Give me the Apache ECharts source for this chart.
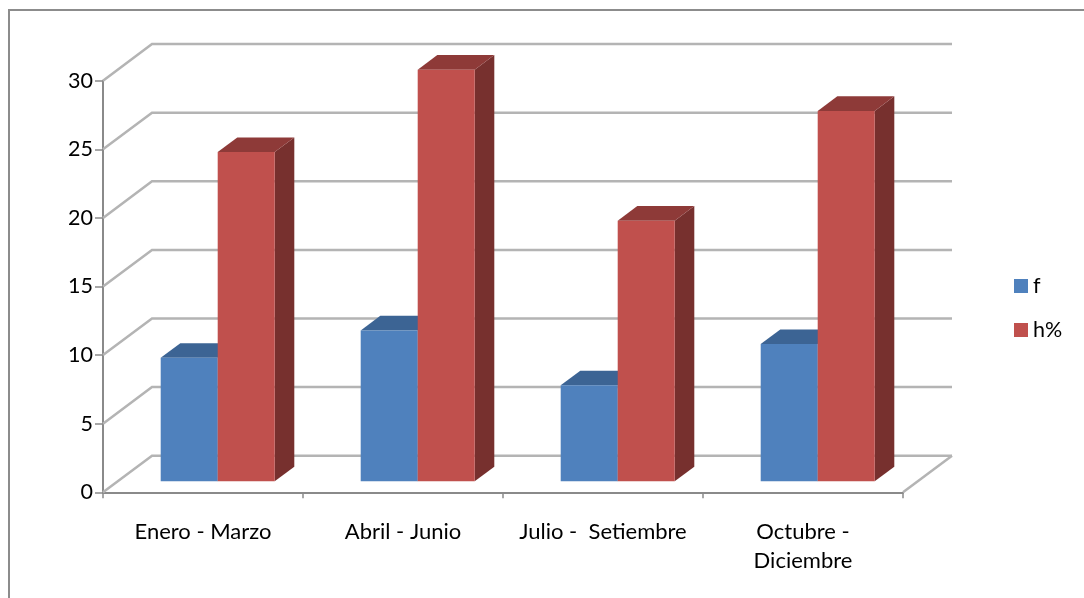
<!DOCTYPE html>
<html>
<head>
<meta charset="utf-8">
<style>html,body{margin:0;padding:0;background:#fff}#c{width:1084px;height:598px}</style>
<script src="https://cdn.jsdelivr.net/npm/echarts@6/dist/echarts.min.js"></script>
</head>
<body>
<div id="c"></div>
<script>
const categories = ['Enero - Marzo', 'Abril - Junio', 'Julio -  Setiembre', 'Octubre -\nDiciembre'];
const fValues = [9, 11, 7, 10];
const hValues = [24, 30, 19, 27];
const yTicks = [0, 5, 10, 15, 20, 25, 30];

const DEPTH_X = 49, DEPTH_Y = -36.6;
const FRONT = 0.3, BACK = 0.7, GAP = 0.215, BAR = 0.285;

function wall(params, api) {
  const v = api.value(0);
  const band = api.size([1, 0])[0];
  const a = api.coord([0, v]); const b = api.coord([categories.length - 1, v]);
  const x0 = a[0] - band / 2, x1 = b[0] + band / 2, y = a[1];
  const style = { stroke: '#b4b4b4', lineWidth: 2.5, fill: null };
  const children = [
    { type: 'polyline', shape: { points: [[x0, y], [x0 + DEPTH_X, y + DEPTH_Y], [x1 + DEPTH_X, y + DEPTH_Y]] }, style }
  ];
  if (v === 0) children.push({ type: 'line', shape: { x1: x1, y1: y, x2: x1 + DEPTH_X, y2: y + DEPTH_Y }, style });
  return { type: 'group', children };
}

function bar3d(offsetIndex, front, top, side) {
  return function (params, api) {
    const cat = api.value(0), v = api.value(1);
    const band = api.size([1, 0])[0];
    const c0 = api.coord([cat, 0]), c1 = api.coord([cat, v]);
    const ox = FRONT * DEPTH_X, oy = FRONT * DEPTH_Y;
    const dx = (BACK - FRONT) * DEPTH_X, dy = (BACK - FRONT) * DEPTH_Y;
    const l = c0[0] - band / 2 + band * (GAP + BAR * offsetIndex) + ox;
    const r = l + band * BAR;
    const b = c0[1] + oy, t = c1[1] + oy;
    return { type: 'group', children: [
      { type: 'polygon', shape: { points: [[r, b], [r + dx, b + dy], [r + dx, t + dy], [r, t]] }, style: { fill: side } },
      { type: 'polygon', shape: { points: [[l, t], [l + dx, t + dy], [r + dx, t + dy], [r, t]] }, style: { fill: top } },
      { type: 'rect', shape: { x: l, y: t, width: r - l, height: b - t }, style: { fill: front } }
    ] };
  };
}

const chart = echarts.init(document.getElementById('c'), null, { renderer: 'canvas' });
const font = 'Lato';
chart.setOption({
  animation: false,
  backgroundColor: '#fff',
  textStyle: { fontFamily: font },
  graphic: [
    { type: 'polyline', silent: true, shape: { points: [[9, 598], [9, 10], [1084, 10]] }, style: { stroke: '#8c8c8c', lineWidth: 2, fill: null } }
  ],
  grid: { left: 103, right: 181, top: 80.7, bottom: 105.7 },
  xAxis: {
    type: 'category', data: categories,
    axisLine: { lineStyle: { color: '#8a8a8a', width: 2 } },
    axisTick: { show: true, length: 6, alignWithLabel: false, lineStyle: { color: '#8a8a8a', width: 1.5 } },
    axisLabel: { color: '#000', fontSize: 22, fontFamily: font, margin: 25, lineHeight: 29, interval: 0 },
    splitLine: { show: false }
  },
  yAxis: {
    type: 'value', min: 0, max: 30, interval: 5,
    axisLine: { show: true, lineStyle: { color: '#8a8a8a', width: 2 } },
    axisTick: { show: true, length: 8, lineStyle: { color: '#8a8a8a', width: 1.5 } },
    axisLabel: { color: '#000', fontSize: 21.5, fontFamily: font, margin: 10 },
    splitLine: { show: false }
  },
  legend: {
    data: [{ name: 'f', icon: 'rect' }, { name: 'h%', icon: 'rect' }],
    orient: 'vertical', left: 1014, top: 275,
    itemWidth: 14, itemHeight: 14, itemGap: 22,
    textStyle: { color: '#000', fontSize: 21.5, fontFamily: font },
    padding: 0
  },
  series: [
    { type: 'custom', silent: true, z: 1, renderItem: wall, data: yTicks.map(v => [v]), encode: { y: 0 } },
    { type: 'custom', name: 'f', z: 3, itemStyle: { color: '#4F81BD' },
      renderItem: bar3d(0, '#4F81BD', '#3C6494', '#3A5F8C'),
      encode: { x: 0, y: 1 }, data: fValues.map((v, i) => [i, v]) },
    { type: 'custom', name: 'h%', z: 4, itemStyle: { color: '#C0504D' },
      renderItem: bar3d(1, '#C0504D', '#8E3A38', '#77302E'),
      encode: { x: 0, y: 1 }, data: hValues.map((v, i) => [i, v]) }
  ]
});
</script>
</body>
</html>
